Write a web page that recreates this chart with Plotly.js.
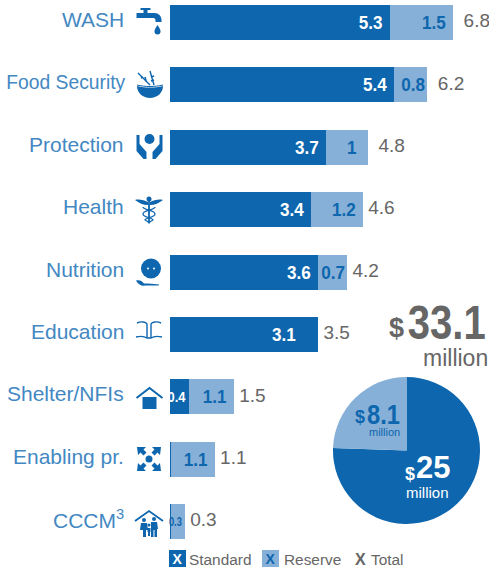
<!DOCTYPE html>
<html><head><meta charset="utf-8">
<script src="https://cdn.plot.ly/plotly-3.0.1.min.js"></script>
<style>html,body{margin:0;padding:0;background:#fff}#c{width:489px;height:569px}</style></head>
<body><div id="c"></div>
<script>
const categories=['WASH','Food Security','Protection','Health','Nutrition','Education','Shelter/NFIs','Enabling pr.','CCCM<sup>3</sup>'];
const standard=[5.3,5.4,3.76,3.4,3.57,3.57,0.46,0.02,0.02];
const reserve=[1.52,0.8,1.01,1.25,0.7,0,1.08,1.06,0.34];
const totals=[6.82,6.2,4.77,4.65,4.27,3.57,1.54,1.08,0.36];
const standardLabels=['5.3','5.4','3.7','3.4','3.6','3.1','0.4',null,null];
const reserveLabels=['1.5','0.8','1','1.2','0.7',null,'1.1','1.1','0.3'];
const totalLabels=['6.8','6.2','4.8','4.6','4.2','3.5','1.5','1.1','0.3'];
const pieLabels=['Standard','Reserve'];
const pieValues=[25,8.1];
const standardPad=[1,1,1,1,1,4,0,0,0], reservePad=[1,0,2,1,0,0,1,1,0], totalPad=[2,2,2,1,1,1,1,1,1];
const DARK='#0D66AE',LIGHT='#86B0D7',BLUE='#4388C2',GREY='#666666',FONT='"Liberation Sans",Arial,sans-serif';
const W=489,H=569,L=170;
const px=x=>(x-L)/(W-L), py=y=>1-y/H;
const stroke=(d,w)=>`<path d="${d}" fill="none" stroke="${DARK}" stroke-width="${w}"/>`;
const fill=d=>`<path d="${d}" fill="${DARK}"/>`;
const icons=[
 [149.5,22,fill('M2 6h7V3H6V1h10v2h-3v3h7c4 0 7 3 7 7v2h-6v-2c0-1-1-2-2-2H2z')+fill('M23 18c2 3 3 4.500 3 6.500a3 3 0 0 1-6 0c0-2 1-3.500 3-6.500z')],
 [150,85,fill('M2 16c8 2 18 2 26 0 0 7-6 12-13 12S2 23 2 16z')+stroke('M2 15c8 2 18 2 26 0',1)+stroke('M3 3l12 12M15 1l4 14',1.400)+stroke('M6 8l2-1M10 7l1 4M16 7l3-1M16 11l3-1',1.600)],
 [149.5,147,`<circle cx="15" cy="7" r="5" fill="${DARK}"/>`+fill('M2 3h3v9l7 8v7h-3l-7-8z')+fill('M28 3h-3v9l-7 8v7h3l7-8z')],
 [149,210,fill('M1 5c4-1 9 0 13 2v3C9 10 5 8 1 5zM29 5c-4-1-9 0-13 2v3c5 0 9-2 13-5z')+`<circle cx="15" cy="4" r="2.500" fill="${DARK}"/>`+stroke('M15 4v24',1.800)+stroke('M9 12c0 3 12 3 12 7s-10 3-10 6l5 3M21 12c0 3-12 3-12 7s10 3 10 6l-5 3',1.300)],
 [150,272.500,`<circle cx="16" cy="11" r="10" fill="${DARK}"/><circle cx="13" cy="11" r="1" fill="#fff"/><circle cx="19" cy="11" r="1" fill="#fff"/>`+fill('M1 23c3-1 6 0 8 3 4 0 9 0 15 1v1H10c-3 1-7-1-9-5z')],
 [149,334,stroke('M3 4c4-2 9-1 10 1v14M27 4c-4-2-9-1-10 1v14M2 18c4-1 8-1 11 1h4c3-2 7-2 11-1',1.400)],
 [149.500,397,fill('M8 15h14v12H8z')+stroke('M2 16L15 6l13 10',2)],
 [149,459,`<circle cx="15" cy="15" r="3.500" fill="${DARK}"/>`+fill('M3 3h9l-2.500 2.500 3 3-3 3-3-3L4 11zM27 3h-9l2.500 2.500-3 3 3 3 3-3L26 11zM3 27h9l-2.500-2.500 3-3-3-3-3 3L4 19zM27 27h-9l2.500-2.500-3-3 3-3 3 3L26 19z')],
 [149,523,stroke('M1 13L15 3l14 10',1.800)+`<circle cx="10" cy="12" r="2" fill="${DARK}"/><circle cx="20" cy="11" r="2" fill="${DARK}"/><circle cx="15" cy="17" r="1.500" fill="${DARK}"/>`+fill('M7 15h6l1 7h-2v7h-3v-7H6zM17 14h6l1 7h-1v8h-2.500v-7h-1v7H17zM13.500 20h3v4h-.500v4h-2v-4h-.500z')]
];
const uri=s=>'data:image/svg+xml;utf8,'+encodeURIComponent(`<svg xmlns="http://www.w3.org/2000/svg" width="30" height="30" viewBox="0 0 30 30">${s}</svg>`);
const images=icons.map(([x,y,s])=>({source:uri(s),xref:'paper',yref:'paper',x:px(x),y:py(y),sizex:30/(W-L),sizey:30/H,xanchor:'center',yanchor:'middle',sizing:'stretch',layer:'above'}));
const note=(text,x,y,size,color,anchor,bold,extra)=>Object.assign({text:text,xref:'paper',yref:'paper',x:px(x),y:py(y),xanchor:anchor,yanchor:'middle',showarrow:false,font:{family:FONT,size:size,color:color,weight:bold?700:400},borderpad:0,borderwidth:0},extra||{});
const catNotes=categories.map((c,i)=>({text:c,xref:'paper',yref:'y',x:px(126),y:i,yshift:3,xanchor:i===1?'center':'right',yanchor:'middle',showarrow:false,font:{family:FONT,size:21,color:BLUE}}));
catNotes[1].x=px(66.5);
const annotations=catNotes.concat([
 note('$',396.5,328,27,GREY,'center',true),
 note('33.1',446,322,49,GREY,'center',true),
 note('million',488,358.5,23,GREY,'right'),
 note('$',409.5,473.5,18,'#fff','center',true),
 note('25',433,468,31,'#fff','center',true),
 note('million',427,492,15,'#fff','center'),
 note('$',360,417,18,DARK,'center',true),
 note('8.1',383,414.5,28,DARK,'center',true),
 note('million',384,432,11,DARK,'center'),
 note('X',177.500,558.500,14,'#fff','center',true,{width:17,height:17,bgcolor:DARK}),
 note('Standard',189,559,15.4,GREY,'left'),
 note('X',270.500,558.500,14,DARK,'center',true,{width:17,height:17,bgcolor:LIGHT}),
 note('Reserve',284,559,15.4,GREY,'left'),
 note('X',360,559,16,GREY,'center',true),
 note('Total',371,559,15.4,GREY,'left')
]);
const padded=(a,p)=>a.map((t,i)=>t===null?null:t+'\u00a0'.repeat(p[i]));
const barBase={type:'bar',orientation:'h',y:categories,width:0.561,textposition:'inside',insidetextanchor:'end',constraintext:'none',textangle:0,hoverinfo:'skip',showlegend:false,cliponaxis:false};
const tf=(a,color)=>({family:FONT,size:a.map(t=>t==='0.4'?15:t==='0.3'?13:19),color:color,weight:700});
const data=[
 Object.assign({},barBase,{x:standard,text:padded(standardLabels,standardPad),marker:{color:DARK,line:{width:0}},textfont:tf(standardLabels,'#fff'),name:'Standard'}),
 Object.assign({},barBase,{x:reserve,text:padded(reserveLabels,reservePad),marker:{color:LIGHT,line:{width:0}},textfont:tf(reserveLabels,DARK),name:'Reserve'}),
 {type:'scatter',mode:'text',x:totals,y:categories,text:totalLabels.map((t,i)=>'\u00a0'.repeat(totalPad[i])+t),textposition:'middle right',textfont:{family:FONT,size:19,color:GREY},hoverinfo:'skip',showlegend:false,name:'Total'},
 {type:'pie',labels:pieLabels,values:pieValues,sort:false,direction:'clockwise',rotation:0,marker:{colors:[DARK,LIGHT],line:{width:0}},textinfo:'none',hoverinfo:'skip',showlegend:false,domain:{x:[px(333),px(480)],y:[py(524),py(377)]}}
];
const layout={width:W,height:H,margin:{l:L,r:0,t:0,b:0,pad:0},barmode:'stack',paper_bgcolor:'#fff',plot_bgcolor:'#fff',showlegend:false,
 xaxis:{range:[0,(W-L)/41.5],visible:false,fixedrange:true},
 yaxis:{type:'category',categoryorder:'array',categoryarray:categories,range:[(H-22.5)/62.4,-22.5/62.4],showgrid:false,zeroline:false,showline:false,ticks:'',showticklabels:false,automargin:false},
 images:images,annotations:annotations};
// Narrow the glyphs horizontally around their centre (real text stays real text).
const squeeze=(t,k,dx)=>{const b=t.getBBox(),c=b.x+b.width/2,e=t.getAttribute('transform')||'';
 t.setAttribute('transform',`${e} translate(${c+(dx||0)} 0) scale(${k} 1) translate(${-c} 0)`);};
Plotly.newPlot('c',data,layout,{staticPlot:true,displayModeBar:false}).then(()=>{
 document.querySelectorAll('#c .bartext').forEach(t=>{
  const s=t.textContent.replace(/\u00a0/g,'');
  if(s==='0.4')squeeze(t,18/t.getComputedTextLength(),1.5);
  else if(s==='0.3')squeeze(t,13/t.getComputedTextLength(),2.5);
  else if(s)squeeze(t,0.9,2);
 });
 document.querySelectorAll('#c .annotation-text').forEach(t=>{
  const s=t.textContent;
  if(s==='33.1')squeeze(t,78/t.getComputedTextLength());
  if(s==='8.1')squeeze(t,33/t.getComputedTextLength());
  if(s==='Food Security')squeeze(t,119/t.getComputedTextLength());
 });
});
</script></body></html>
